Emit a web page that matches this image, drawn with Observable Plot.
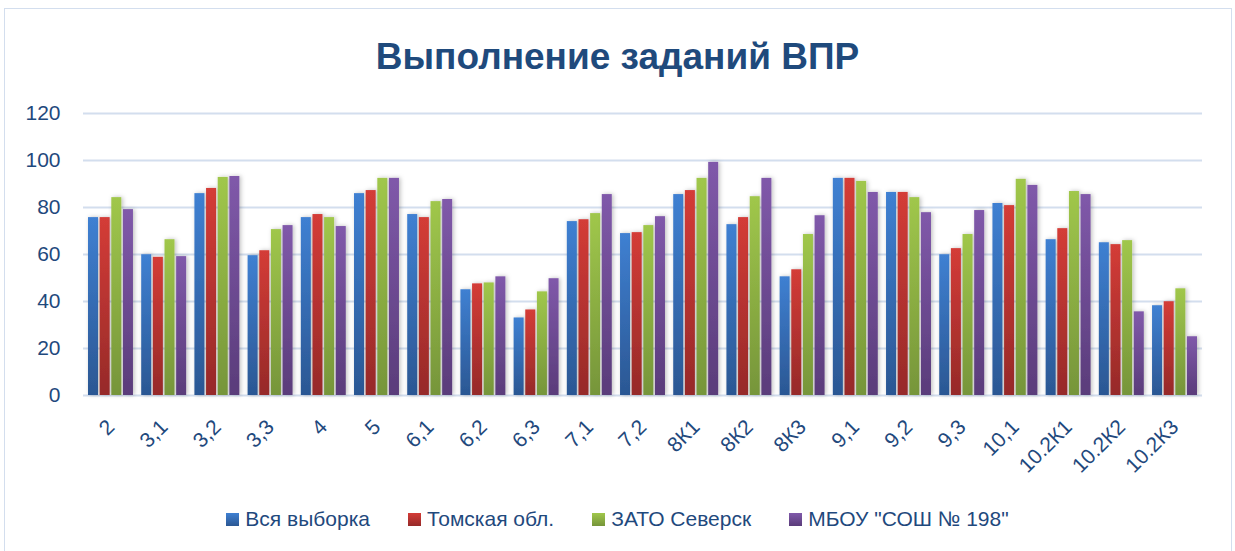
<!DOCTYPE html>
<html><head><meta charset="utf-8">
<script src="https://cdn.jsdelivr.net/npm/d3@7"></script>
<script src="https://cdn.jsdelivr.net/npm/@observablehq/plot@0.6"></script>
<style>
body{margin:0;background:#fff;width:1235px;height:551px;overflow:hidden;position:relative;font-family:"Liberation Sans",Arial,sans-serif}
#frame{position:absolute;left:4px;top:8px;width:1228px;height:560px;border:1px solid #d3deee;box-sizing:border-box}
#title{position:absolute;top:36px;left:0;width:1235px;text-align:center;font-size:37px;font-weight:bold;color:#1f4a7c;line-height:42px}
#chart{position:absolute;left:0;top:100px}
#legend{position:absolute;top:507px;left:0;width:1235px;display:flex;justify-content:center;gap:38px;font-size:21px;color:#1f497d;line-height:24px}
#legend span.item{display:flex;align-items:center;gap:6px}
#legend span.sw{display:inline-block;width:13px;height:13px}
</style></head>
<body>
<div id="frame"></div>
<div id="title">Выполнение заданий ВПР</div>
<div id="chart"></div>
<div id="legend"></div>
<script>
const tasks = ["2","3,1","3,2","3,3","4","5","6,1","6,2","6,3","7,1","7,2","8К1","8К2","8К3","9,1","9,2","9,3","10,1","10.2К1","10.2К2","10.2К3"];
const series = ["Вся выборка","Томская обл.","ЗАТО Северск","МБОУ \"СОШ № 198\""];
const allSample = [75.7,59.9,85.9,59.5,75.7,85.9,77.0,45.0,33.0,74.0,68.9,85.5,72.7,50.5,92.4,86.4,59.9,81.7,66.3,65.0,38.2];
const tomskRegion = [75.7,58.8,88.1,61.6,77.0,87.2,75.7,47.5,36.4,74.8,69.3,87.2,75.7,53.5,92.4,86.4,62.5,80.8,71.0,64.2,39.9];
const seversk = [84.2,66.3,92.8,70.6,75.7,92.4,82.5,47.9,44.1,77.4,72.3,92.4,84.6,68.5,91.1,84.2,68.5,92.0,86.8,65.9,45.4];
const school198 = [79.1,59.1,93.2,72.3,71.9,92.4,83.4,50.5,49.7,85.5,76.1,99.2,92.4,76.5,86.4,77.8,78.7,89.4,85.5,35.6,25.0];
const yTicks = [0,20,40,60,80,100,120];

const values = [allSample, tomskRegion, seversk, school198];
const gradStops = [["#3f80d2","#2b5793"],["#d43c37","#962a29"],["#a0c74b","#76953a"],["#8059aa","#5a3c7a"]];
const step = 11.65;

const rows = series.map((s, i) => tasks.map((t, j) => ({task: t, series: s, value: values[i][j]})));

const svg = Plot.plot({
  width: 1235, height: 395,
  marginLeft: 83, marginRight: 33, marginTop: 13, marginBottom: 100,
  style: {fontFamily: "'Liberation Sans', Arial, sans-serif", background: "transparent", color: "#1f497d"},
  x: {domain: tasks, paddingInner: 0.155, paddingOuter: 0.094, round: false, label: null},
  y: {domain: [0, 120], label: null},
  marks: [
    Plot.gridY(yTicks, {stroke: "#d3deee", strokeOpacity: 1, strokeWidth: 2}),
    ...rows.map((r, i) => Plot.barY(r, {x: "task", y: "value", fill: `url(#g${i})`, insetLeft: i * step, insetRight: (3 - i) * step})),
    Plot.axisY(yTicks, {tickSize: 0, tickPadding: 23, fontSize: 21, fill: "#1f497d"}),
    Plot.axisX({tickSize: 0, tickPadding: 28, tickRotate: -45, fontSize: 21, fill: "#1f497d"})
  ]
});
const defs = d3.select(svg).insert("defs", ":first-child");
gradStops.forEach((c, i) => {
  const g = defs.append("linearGradient").attr("id", "g" + i).attr("x1", 0).attr("y1", 0).attr("x2", 0).attr("y2", 1);
  g.append("stop").attr("offset", "0%").attr("stop-color", c[0]);
  g.append("stop").attr("offset", "100%").attr("stop-color", c[1]);
});
const f = defs.append("filter").attr("id", "sh").attr("x", "-30%").attr("y", "-10%").attr("width", "160%").attr("height", "120%");
f.append("feDropShadow").attr("dx", 1.5).attr("dy", 0).attr("stdDeviation", 2).attr("flood-color", "#000").attr("flood-opacity", 0.25);
d3.select(svg).selectAll("g[aria-label='bar']").attr("filter", "url(#sh)");
document.getElementById("chart").appendChild(svg);

const legend = document.getElementById("legend");
series.forEach((s, i) => {
  const it = document.createElement("span"); it.className = "item";
  const sw = document.createElement("span"); sw.className = "sw";
  sw.style.background = `linear-gradient(${gradStops[i][0]}, ${gradStops[i][1]})`;
  const tx = document.createElement("span"); tx.textContent = s;
  it.appendChild(sw); it.appendChild(tx); legend.appendChild(it);
});
</script>
</body></html>
